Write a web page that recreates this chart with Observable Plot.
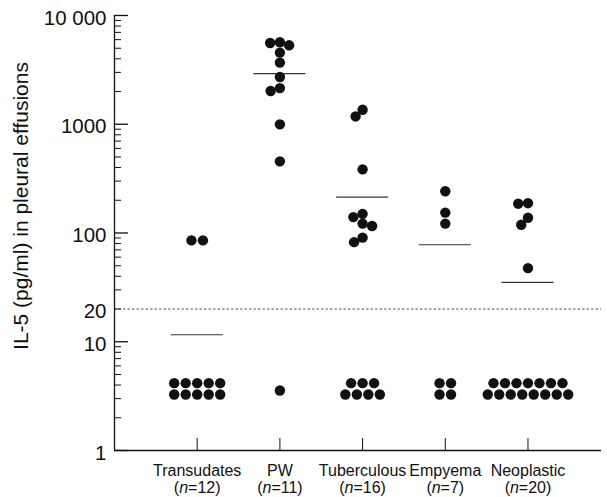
<!DOCTYPE html>
<html>
<head>
<meta charset="utf-8">
<script src="https://cdn.jsdelivr.net/npm/d3@7"></script>
<script src="https://cdn.jsdelivr.net/npm/@observablehq/plot@0.6"></script>
<style>
  html, body { margin: 0; padding: 0; background: #fff; }
  #chart { width: 607px; height: 497px; }
</style>
</head>
<body>
<div id="chart"></div>
<script>
// ---- data ----
const categories = ["Transudates", "PW", "Tuberculous", "Empyema", "Neoplastic"];
const groupSizes = [12, 11, 16, 7, 20];
const transudates = [85.5, 85.5, 4.16, 4.16, 4.16, 4.16, 4.16, 3.27, 3.27, 3.27, 3.27, 3.27];
const pw = [5670, 5590, 5320, 4560, 3690, 2720, 2150, 2020, 998, 456, 3.56];
const tuberculous = [1360, 1180, 385, 150, 140, 122, 116, 90.6, 82.4, 4.16, 4.16, 4.16, 3.27, 3.27, 3.27, 3.27];
const empyema = [242, 154, 122, 4.16, 4.16, 3.27, 3.27];
const neoplastic = [188, 186, 138, 119, 47.5, 4.16, 4.16, 4.16, 4.16, 4.16, 4.16, 4.16,
                    3.27, 3.27, 3.27, 3.27, 3.27, 3.27, 3.27, 3.27];
const medians = [11.6, 2920, 214, 78, 35.1];
const detectionLimit = 20;
const yTicks = [1, 10, 20, 100, 1000, 10000];
const yTickLabels = ["1", "10", "20", "100", "1000", "10 000"];
const majorTicks = [1, 10, 100, 1000, 10000];
const yLabel = "IL-5 (pg/ml) in pleural effusions";

// ---- layout constants ----
const W = 607, H = 497, mL = 114, mR = 6, mT = 15, mB = 47, xMax = 5.889;
const R = 5.2, COLLIDE = 9.6, ROW = 11.5;

const minorTicks = [];
for (const d of [1, 10, 100, 1000]) for (let k = 2; k <= 9; k++) minorTicks.push(d * k);

// simple dot-plot layout: identical values in a centred row, others dodged
const yPix = d3.scaleLog().domain([1, 10000]).range([H - mB, mT]);
const ppu = (W - mL - mR) / xMax;
function layout(values, gi) {
  const counts = d3.rollup(values, v => v.length, d => d);
  const seen = new Map();
  const placed = [];
  const out = [];
  for (const v of values.slice().sort((a, b) => b - a)) {
    const py = yPix(v);
    const n = counts.get(v);
    let off;
    if (n > 1) {
      const k = seen.get(v) || 0; seen.set(v, k + 1);
      off = (k - (n - 1) / 2) * ROW;
    } else {
      off = 0;
      outer: for (let s = 0; s < 60; s += 0.25) {
        for (const c of s === 0 ? [0] : [-s, s]) {
          if (placed.every(p => Math.hypot(p.px - c, p.py - py) >= COLLIDE)) { off = c; break outer; }
        }
      }
    }
    placed.push({px: off, py});
    out.push({group: categories[gi], x: gi + 1 + off / ppu, v});
  }
  return out;
}
const points = [transudates, pw, tuberculous, empyema, neoplastic].flatMap((vals, i) => layout(vals, i));
const medianRows = medians.map((m, i) => ({x: i + 1, v: m}));
const catRows = categories.map((c, i) => ({x: i + 1, label: `${c}\n(n=${groupSizes[i]})`}));

const chart = Plot.plot({
  width: W, height: H,
  marginLeft: mL, marginRight: mR, marginTop: mT, marginBottom: mB,
  style: {fontFamily: "'Liberation Sans', Arial, sans-serif", color: "#111", background: "#fff"},
  x: {domain: [0, xMax], axis: null},
  y: {type: "log", domain: [1, 10000], axis: null},
  marks: [
    Plot.ruleY([detectionLimit], {stroke: "#555", strokeDasharray: "2.5,2", strokeWidth: 1}),
    Plot.ruleX([0], {stroke: "#111", strokeWidth: 1.3}),
    Plot.ruleY([1], {stroke: "#111", strokeWidth: 1.3}),
    Plot.ruleY(majorTicks, {y: d => d, x1: 0, x2: 0, insetRight: -14, stroke: "#111", strokeWidth: 1.3}),
    Plot.ruleY(minorTicks, {y: d => d, x1: 0, x2: 0, insetRight: -7, stroke: "#111", strokeWidth: 1}),
    Plot.ruleX(catRows, {x: "x", y1: 1, y2: 1, insetTop: -12, stroke: "#111", strokeWidth: 1}),
    Plot.text(yTicks, {x: 0, y: d => d, text: (d, i) => yTickLabels[i], textAnchor: "end", dx: -8, dy: 2.5, fontSize: 20.5, fill: "#111"}),
    Plot.text([yLabel], {frameAnchor: "left", textAnchor: "middle", rotate: -90, dx: -93, dy: -27, fontSize: 21, fill: "#111"}),
    Plot.text(catRows, {x: "x", y: 1, text: "label", lineAnchor: "top", dy: 13, fontSize: 16, lineHeight: 1.0625, fill: "#111"}),
    Plot.ruleY(medianRows, {y: "v", x1: "x", x2: "x", insetLeft: -26, insetRight: -26, stroke: "#333", strokeWidth: 1.2}),
    Plot.dot(points, {x: "x", y: "v", r: R, fill: "#111", stroke: "none"})
  ]
});

// italic "n" in the group-size labels
chart.querySelectorAll("tspan, text").forEach(el => {
  if (el.children.length === 0) {
    const m = /^\(n=(\d+)\)$/.exec(el.textContent);
    if (m) el.innerHTML = `(<tspan font-style="italic">n</tspan>=${m[1]})`;
  }
});

document.getElementById("chart").append(chart);
</script>
</body>
</html>
